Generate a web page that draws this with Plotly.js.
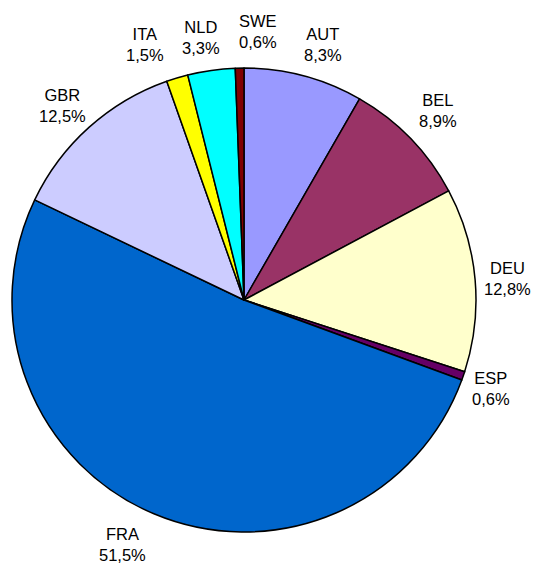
<!DOCTYPE html>
<html>
<head>
<meta charset="utf-8">
<script src="https://cdn.plot.ly/plotly-3.0.1.min.js"></script>
<style>html,body{margin:0;padding:0;background:#fff;}#chart{width:533px;height:566px;}</style>
</head>
<body>
<div id="chart"></div>
<script>
const countries = ["AUT", "BEL", "DEU", "ESP", "FRA", "GBR", "ITA", "NLD", "SWE"];
const shares = [8.3, 8.9, 12.8, 0.6, 51.5, 12.5, 1.5, 3.3, 0.6];
const sliceColors = ["#9999FF", "#993366", "#FFFFCC", "#660066", "#0066CC", "#CCCCFF", "#FFFF00", "#00FFFF", "#800000"];

// label placement (pixel positions of label block centres, layout only)
const labelPos = {
  AUT: [322.5, 44], BEL: [438, 110], DEU: [507.5, 278], ESP: [491, 388],
  FRA: [122.5, 544], GBR: [62, 105], ITA: [145, 44], NLD: [201, 38], SWE: [257.5, 31.5]
};

const W = 533, H = 566;
const margin = {l: 12, r: 57, t: 68, b: 34};
const plotW = W - margin.l - margin.r;
const plotH = H - margin.t - margin.b;

const trace = {
  type: "pie",
  labels: countries,
  values: shares,
  sort: false,
  direction: "clockwise",
  rotation: 0,
  marker: {colors: sliceColors, line: {color: "#000000", width: 1.5}},
  textinfo: "none",
  hoverinfo: "label+percent",
  showlegend: false
};

const total = shares.reduce((a, b) => a + b, 0);
const annotations = countries.map((c, i) => {
  const p = labelPos[c];
  const pct = (shares[i] / total * 100).toFixed(1).replace(".", ",");
  return {
    text: c + "<br>" + pct + "%",
    xref: "paper", yref: "paper",
    x: (p[0] - margin.l) / plotW,
    y: (H - margin.b - p[1]) / plotH,
    xanchor: "center", yanchor: "middle",
    showarrow: false,
    align: "center",
    font: {family: "Liberation Sans, Arial, sans-serif", size: 16.5, color: "#000000"}
  };
});

const layout = {
  width: W,
  height: H,
  margin: margin,
  separators: ",.",
  paper_bgcolor: "#ffffff",
  plot_bgcolor: "#ffffff",
  showlegend: false,
  annotations: annotations
};

Plotly.newPlot("chart", [trace], layout, {displayModeBar: false, staticPlot: true});
</script>
</body>
</html>
